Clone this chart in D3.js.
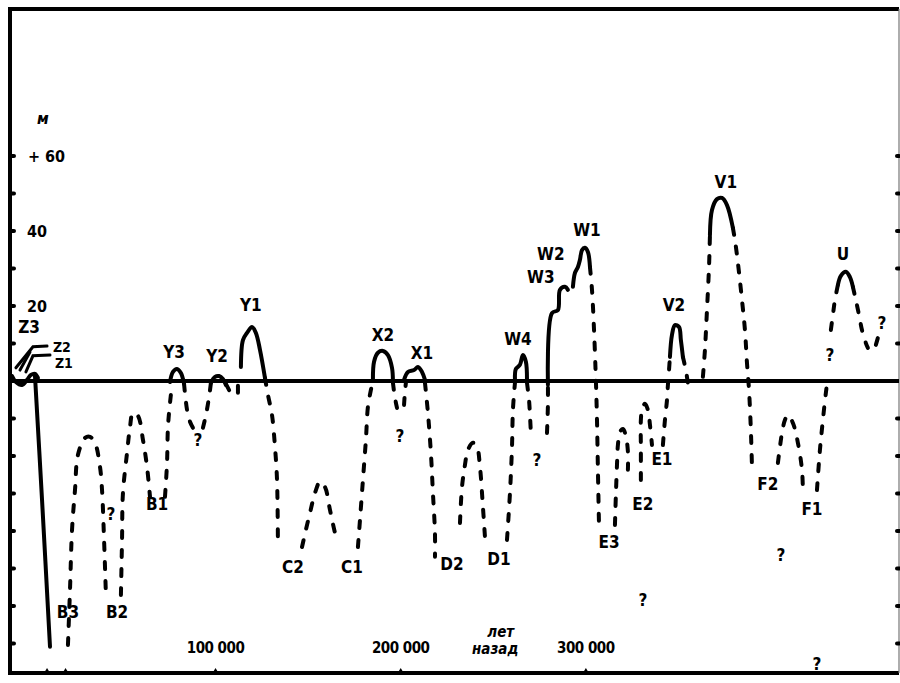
<!DOCTYPE html>
<html>
<head>
<meta charset="utf-8">
<script src="https://cdn.jsdelivr.net/npm/d3@7"></script>
<style>
body { margin: 0; background: #fff; }
svg { display: block; }
text { font-family: 'DejaVu Sans Condensed', 'DejaVu Sans', sans-serif; font-weight: bold; fill: #000; }
</style>
</head>
<body>
<svg id="chart" width="900" height="683"></svg>
<script>
// sea level curve, thousands of years ago (ka) vs metres
// solid = known stands, dashed = inferred

const zWiggle = [[-9.9, 1.3], [-7.8, -0.3], [-4.5, -1.1], [-1.8, 0.3], [0.3, 1.6], [2.5, 1.9], [4.1, 0.8]]
const zDrop = [[2.5, 1.3], [6.3, -31.7], [10.6, -70.9]]
const z3Mark = [[-7.8, 3.5], [1.4, 9.1], [9.0, 9.3]]
const z2Mark = [[-5.6, 2.9], [-0.2, 7.7]]
const z1Mark = [[-2.4, 2.4], [1.4, 6.7], [10.6, 6.9]]
const y3Peak = [[75.4, -0.3], [77.0, 2.4], [79.2, 3.2], [81.3, 2.1], [83.0, -0.8]]
const y2Peak = [[97.5, -0.5], [99.7, 1.1], [101.9, 1.3], [104.0, 0.5], [105.6, -1.1]]
const y1Peak = [[113.7, 3.7], [114.8, 10.9], [117.0, 12.8], [119.7, 14.4], [121.8, 12.8], [124.0, 8.3], [126.7, 0.8]]
const x2Peak = [[185.0, 0.3], [185.6, 5.1], [187.7, 7.5], [190.4, 8.0], [193.1, 6.9], [195.3, 3.5], [195.8, 0]]
const x1Peak = [[201.8, 0.3], [203.9, 2.4], [207.2, 2.9], [209.3, 3.7], [211.5, 2.4], [213.1, 0.3]]
const w4Peak = [[261.7, 0.3], [262.2, 3.2], [264.4, 4.3], [266.0, 6.9], [267.6, 5.1], [268.2, 0.3]]
const wRise = [[279.5, -1.0], [281.7, 18.1], [284.9, 18.9], [286.0, 24.3], [288.7, 25.1], [290.3, 24.3]]
const w1Peak = [[293.0, 25.1], [294.1, 28.8], [295.7, 30.4], [296.8, 32.3], [297.9, 34.9], [299.5, 35.5], [301.1, 34.4], [302.2, 30.4]]
const v2Peak = [[345.4, 6.4], [346.5, 12.3], [348.1, 14.9], [350.3, 14.4], [351.3, 10.9], [352.4, 6.4]]
const v1Peak = [[367.0, 38.9], [368.1, 45.6], [370.8, 48.5], [373.5, 48.8], [376.2, 46.9], [379.4, 40.8]]
const uPeak = [[436.1, 25.6], [437.7, 28.0], [440.4, 29.1], [442.6, 27.7], [444.2, 25.1]]

const b3Rise = [[20.3, -70.4], [21.4, -55.7], [22.5, -39.7], [24.1, -29.1], [25.7, -19.7], [29.5, -15.2], [32.2, -14.9], [34.9, -16.5], [37.6, -22.9], [38.7, -29.1], [39.8, -42.4], [40.8, -57.1]]
const b2Rise = [[48.9, -57.1], [49.5, -42.4], [50.0, -29.9], [52.2, -19.2], [53.8, -12.3], [55.4, -8.5], [58.1, -9.3], [60.8, -15.7], [63.0, -22.9], [64.6, -30.9]]
const b1Rise = [[72.7, -30.9], [73.8, -21.9], [74.3, -12.3], [75.4, -5.9], [76.5, -1.1]]
const y3Fall = [[83.0, -0.8], [84.6, -7.7], [86.2, -10.9], [87.8, -12.5]]
const y2Rise = [[93.2, -12.5], [94.8, -9.1], [96.5, -4.3], [97.5, -0.5]]
const y2Tail = [[105.6, -0.8], [107.8, -2.9]]
const y1Foot = [[112.1, -1.3], [112.1, -3.5]]
const y1Fall = [[126.7, 0.8], [128.3, -3.7], [130.5, -9.1], [132.1, -17.6], [133.2, -26.4], [133.7, -44.5]]
const c2Rise = [[146.7, -44.3], [148.8, -39.7], [151.0, -35.2], [153.7, -29.9], [156.4, -26.9], [159.1, -28.3], [161.8, -34.4], [164.5, -40.5], [166.1, -43.2]]
const c1Rise = [[176.9, -44.3], [178.0, -37.1], [179.6, -26.4], [181.2, -15.7], [182.3, -6.9], [183.9, -2.4], [185.0, 0.3]]
const x2Fall = [[195.8, -0.5], [196.9, -4.5], [198.0, -7.2]]
const x1Rise = [[201.8, -6.4], [202.3, -2.9], [202.8, -0.5]]
const x1Fall = [[213.1, -0.5], [214.7, -8.5], [216.3, -19.2], [217.4, -29.9], [218.5, -40.5], [218.5, -46.9]]
const d2Rise = [[232.0, -37.9], [233.1, -28.3], [234.7, -22.4], [236.3, -18.4], [239.0, -16.5], [241.2, -17.6], [242.8, -22.9], [244.4, -33.6], [245.5, -41.6]]
const d1Rise = [[257.4, -42.4], [259.0, -29.9], [260.1, -17.6], [260.6, -7.7], [261.7, -0.5]]
const w4Fall = [[268.2, -0.5], [269.3, -5.1], [269.8, -9.1], [270.3, -13.9]]
const w3Foot = [[279.0, -13.9], [279.5, -6.4], [279.5, -1.0]]
const w1Fall = [[302.2, 30.4], [303.3, 24.3], [304.4, 13.6], [305.4, 0.3], [306.0, -10.4], [306.5, -23.7], [307.1, -38.9]]
const e3Rise = [[315.7, -38.4], [316.2, -30.4], [316.8, -22.4], [317.3, -17.1], [318.4, -13.6], [320.0, -12.8], [321.6, -14.7], [322.7, -18.9], [322.7, -23.7]]
const e2Rise = [[329.7, -26.4], [329.7, -18.4], [329.7, -10.4], [330.3, -7.7], [331.9, -6.1], [333.5, -7.7], [334.6, -11.7], [335.7, -17.1]]
const e1Rise = [[341.6, -17.1], [342.7, -10.4], [343.8, -5.1], [344.3, -1.1], [344.9, 2.9], [345.4, 6.4]]
const v2Fall = [[352.4, 6.4], [354.0, 2.9], [355.1, -0.5], [356.2, -2.9]]
const v1Rise = [[363.2, 1.1], [364.3, 8.3], [365.4, 18.9], [366.5, 30.4], [367.0, 38.9]]
const v1Fall = [[379.4, 40.8], [380.5, 37.6], [382.1, 31.5], [384.3, 21.6], [385.9, 13.6], [387.0, 4.8], [388.1, -2.4], [389.1, -13.1], [389.7, -22.9]]
const f2Rise = [[403.7, -21.9], [404.8, -17.6], [405.9, -13.9], [407.5, -10.4], [409.1, -9.1], [411.8, -11.2], [414.5, -16.5], [416.7, -23.7], [417.2, -29.1]]
const f1Rise = [[424.8, -29.1], [426.4, -18.4], [428.0, -10.4], [429.6, -3.2], [430.7, 0.8]]
const uRise = [[432.3, 13.6], [433.4, 17.6], [434.5, 21.6], [436.1, 25.6]]
const uFall = [[444.2, 25.1], [445.8, 21.6], [447.5, 17.6], [449.1, 13.6], [451.2, 10.1], [452.3, 8.8]]
const uTail = [[456.6, 9.6], [457.7, 11.5], [458.8, 13.6]]

const solidLines = [zWiggle, zDrop, y3Peak, y2Peak, y1Peak, x2Peak, x1Peak, w4Peak, wRise, w1Peak, v2Peak, v1Peak, uPeak]
const thinLines = [z3Mark, z2Mark, z1Mark]
const dashedLines = [b3Rise, b2Rise, b1Rise, y3Fall, y2Rise, y2Tail, y1Foot, y1Fall, c2Rise, c1Rise, x2Fall, x1Rise, x1Fall,
    d2Rise, d1Rise, w4Fall, w3Foot, w1Fall, e3Rise, e2Rise, e1Rise, v2Fall, v1Rise, v1Fall, f2Rise, f1Rise, uRise, uFall, uTail]

const stageLabels = [
    ['Z3', -0.7, 12.8], ['Y3', 77.6, 6.1], ['Y2', 100.8, 5.1], ['Y1', 119.1, 18.7],
    ['X2', 190.4, 10.7], ['X1', 211.5, 5.9], ['W4', 263.3, 9.6], ['W3', 275.7, 26.1],
    ['W2', 281.1, 32.3], ['W1', 300.6, 38.7], ['V2', 347.6, 18.7], ['V1', 375.6, 51.5], ['U', 438.8, 32.3],
    ['B3', 20.3, -63.2], ['B2', 46.8, -63.2], ['B1', 68.4, -34.4], ['C2', 141.8, -51.2], ['C1', 173.7, -51.2],
    ['D2', 227.7, -50.4], ['D1', 253.1, -49.1], ['E3', 312.5, -44.5], ['E2', 330.8, -34.4], ['E1', 341.1, -22.4],
    ['F2', 398.3, -29.1], ['F1', 422.1, -35.7]
]
const sideLabels = [['Z2', 12.2, 7.8], ['Z1', 13.3, 3.5]]
const queryMarks = [[43.5, -37.1], [90.5, -17.3], [199.6, -16.3], [273.6, -22.7], [330.8, -60.0],
    [405.3, -48.0], [424.8, -77.1], [431.8, 5.3], [459.9, 13.9]]

const levelTicks = [-70, -60, -50, -40, -30, -20, -10, 10, 20, 30, 40, 50, 60]
const levelTickLabels = [[60, '+ 60'], [40, '40'], [20, '20']]
const ageTicks = [100, 200, 300]
const ageTickLabels = ['100 000', '200 000', '300 000']
const minorAgeTicks = [9, 19]

const LEFT = 10
const RIGHT = 899
const TOP = 9
const BOTTOM = 673
const STROKE = 4

const svg = d3.select('#chart')
const x = d3.scaleLinear().domain([-11.0, 469.1]).range([LEFT, RIGHT])
const y = d3.scaleLinear().domain([-77.9, 99.2]).range([BOTTOM, TOP])

const line = d3.line()
    .x(d => x(d[0]))
    .y(d => y(d[1]))
    .curve(d3.curveCatmullRom.alpha(0.5))

// frame
svg.append('path')
    .attr('d', `M${RIGHT},${TOP}H${LEFT}V${BOTTOM}H${RIGHT}`)
    .attr('fill', 'none')
    .attr('stroke', '#000')
    .attr('stroke-width', STROKE)
svg.append('line')
    .attr('x1', RIGHT).attr('x2', RIGHT)
    .attr('y1', TOP).attr('y2', BOTTOM)
    .attr('stroke', '#777')
    .attr('stroke-width', 1.2)

// tick dots on both sides
svg.selectAll('.tick-left')
    .data(levelTicks)
    .enter().append('line')
    .attr('class', 'tick-left')
    .attr('x1', LEFT).attr('x2', LEFT + 4)
    .attr('y1', d => y(d)).attr('y2', d => y(d))
    .attr('stroke', '#000')
    .attr('stroke-width', 4)
    .attr('stroke-linecap', 'round')
svg.selectAll('.tick-right')
    .data(levelTicks)
    .enter().append('line')
    .attr('class', 'tick-right')
    .attr('x1', RIGHT - 2).attr('x2', RIGHT)
    .attr('y1', d => y(d)).attr('y2', d => y(d))
    .attr('stroke', '#000')
    .attr('stroke-width', 4)
    .attr('stroke-linecap', 'round')

svg.selectAll('.tick-bottom')
    .data(ageTicks.concat(minorAgeTicks))
    .enter().append('path')
    .attr('class', 'tick-bottom')
    .attr('d', d => `M${x(d) - 3},${BOTTOM}L${x(d)},${BOTTOM - 5}L${x(d) + 3},${BOTTOM}Z`)
    .attr('fill', '#000')

svg.selectAll('.level-label')
    .data(levelTickLabels)
    .enter().append('text')
    .attr('class', 'level-label')
    .attr('x', d => d[1].length > 2 ? 28 : 27)
    .attr('y', d => y(d[0]) + 6)
    .attr('font-size', 16)
    .text(d => d[1])

svg.append('text')
    .attr('x', 37)
    .attr('y', y(60) - 32)
    .attr('font-size', 16)
    .attr('font-style', 'italic')
    .text('м')

svg.selectAll('.age-label')
    .data(ageTicks)
    .enter().append('text')
    .attr('class', 'age-label')
    .attr('x', d => x(d))
    .attr('y', BOTTOM - 20)
    .attr('text-anchor', 'middle')
    .attr('font-size', 15)
    .attr('letter-spacing', -0.5)
    .text((d, i) => ageTickLabels[i])

svg.append('text')
    .attr('x', x(254)).attr('y', BOTTOM - 36)
    .attr('text-anchor', 'middle')
    .attr('font-size', 15)
    .attr('font-style', 'italic')
    .text('лет')
svg.append('text')
    .attr('x', x(251)).attr('y', BOTTOM - 19)
    .attr('text-anchor', 'middle')
    .attr('font-size', 15)
    .attr('font-style', 'italic')
    .text('назад')

// zero line
svg.append('line')
    .attr('x1', LEFT).attr('x2', RIGHT)
    .attr('y1', y(0)).attr('y2', y(0))
    .attr('stroke', '#000')
    .attr('stroke-width', STROKE)

svg.selectAll('.solid')
    .data(solidLines)
    .enter().append('path')
    .attr('class', 'solid')
    .attr('d', line)
    .attr('fill', 'none')
    .attr('stroke', '#000')
    .attr('stroke-width', STROKE)
    .attr('stroke-linecap', 'round')
    .attr('stroke-linejoin', 'round')

svg.selectAll('.thin')
    .data(thinLines)
    .enter().append('path')
    .attr('class', 'thin')
    .attr('d', d3.line().x(d => x(d[0])).y(d => y(d[1])))
    .attr('fill', 'none')
    .attr('stroke', '#000')
    .attr('stroke-width', 3)
    .attr('stroke-linecap', 'round')

svg.selectAll('.dashed')
    .data(dashedLines)
    .enter().append('path')
    .attr('class', 'dashed')
    .attr('d', line)
    .attr('fill', 'none')
    .attr('stroke', '#000')
    .attr('stroke-width', STROKE)
    .attr('stroke-dasharray', '7 12')
    .attr('stroke-linecap', 'round')

svg.selectAll('.stage')
    .data(stageLabels)
    .enter().append('text')
    .attr('class', 'stage')
    .attr('x', d => x(d[1]))
    .attr('y', d => y(d[2]))
    .attr('text-anchor', 'middle')
    .attr('font-size', 17)
    .text(d => d[0])

svg.selectAll('.side')
    .data(sideLabels)
    .enter().append('text')
    .attr('class', 'side')
    .attr('x', d => x(d[1]))
    .attr('y', d => y(d[2]))
    .attr('font-size', 14)
    .text(d => d[0])

svg.selectAll('.query')
    .data(queryMarks)
    .enter().append('text')
    .attr('class', 'query')
    .attr('x', d => x(d[0]))
    .attr('y', d => y(d[1]))
    .attr('text-anchor', 'middle')
    .attr('font-size', 17)
    .text('?')
</script>
</body>
</html>
